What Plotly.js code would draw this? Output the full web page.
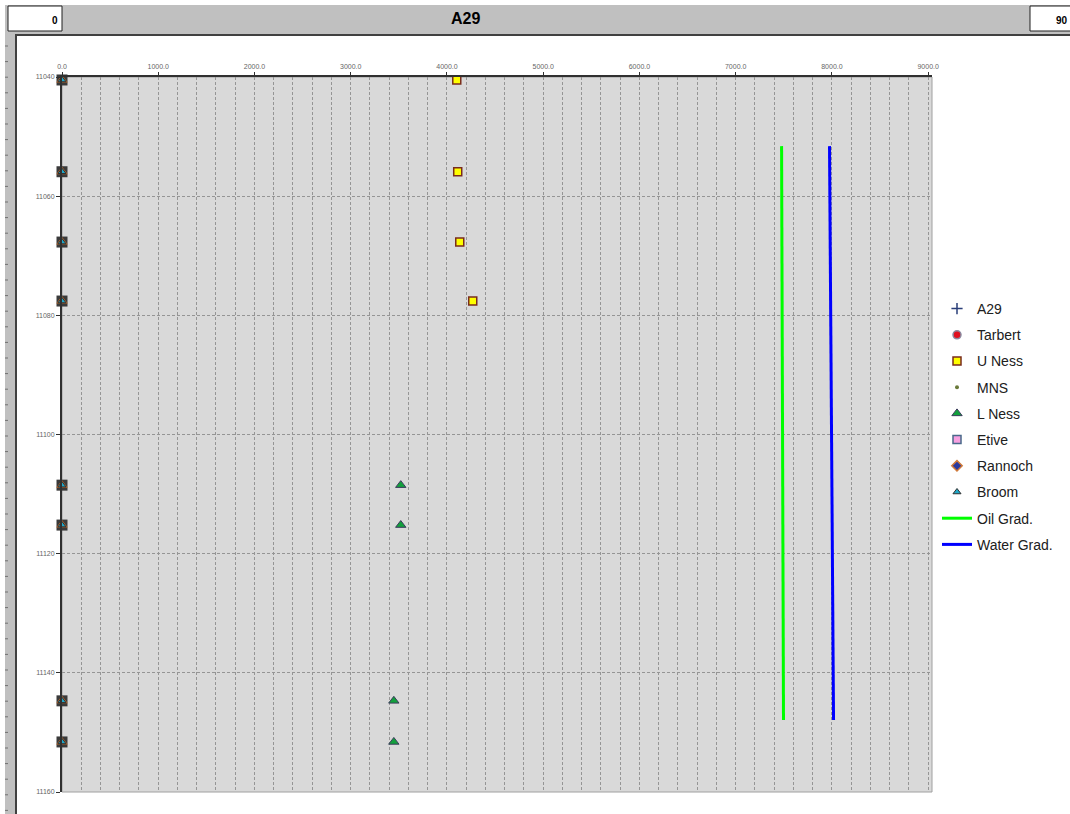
<!DOCTYPE html>
<html>
<head>
<meta charset="utf-8">
<script src="https://cdn.plot.ly/plotly-3.0.1.min.js"></script>
<style>
  html, body { margin: 0; padding: 0; background: #ffffff; }
  #chart { width: 1070px; height: 814px; }
</style>
</head>
<body>
<div id="chart"></div>
<script>
// ---------------- data ----------------
const wellName = "A29";
const headerLeftValue = "0";
const headerRightValue = "90";

const uNessDepth = [11040.5, 11055.9, 11067.7, 11077.6];
const uNessPressure = [4102, 4112, 4133, 4268];

const lNessDepth = [11108.5, 11115.2, 11144.7, 11151.6];
const lNessPressure = [3520, 3520, 3448, 3448];

const broomDepth = [11040.5, 11055.9, 11067.7, 11077.6, 11108.5, 11115.2, 11144.7, 11151.6];
const broomPressure = [0, 0, 0, 0, 0, 0, 0, 0];

const oilGradDepth = [11051.6, 11147.9];
const oilGradPressure = [7477, 7497];

const waterGradDepth = [11051.6, 11147.9];
const waterGradPressure = [7975, 8017];

const xTickValues = [0, 1000, 2000, 3000, 4000, 5000, 6000, 7000, 8000, 9000];
const yTickValues = [11040, 11060, 11080, 11100, 11120, 11140, 11160];

// ---------------- layout geometry ----------------
const W = 1070, H = 814;
const L = 62, R = 932, T = 77, B = 792;
const px = X => (X - L) / (R - L);
const py = Y => (B - Y) / (B - T);

const emptyX = [null], emptyY = [null];

const traces = [
  { name: "A29", x: emptyX, y: emptyY, mode: "markers", legendgroup: "g1",
    marker: { symbol: "cross-thin", size: 8, line: { color: "#2a3f7a", width: 1.5 }, color: "#2a3f7a" } },
  { name: "Tarbert", x: emptyX, y: emptyY, mode: "markers", legendgroup: "g2",
    marker: { symbol: "circle", size: 8, color: "#e01020", line: { color: "#8a8aa0", width: 1.5 } } },
  { name: "U Ness", x: uNessPressure, y: uNessDepth, mode: "markers", legendgroup: "g3", cliponaxis: false,
    marker: { symbol: "square", size: 8, color: "#ffff00", line: { color: "#7a2c1c", width: 1.5 } } },
  { name: "MNS", x: emptyX, y: emptyY, mode: "markers", legendgroup: "g4",
    marker: { symbol: "circle", size: 4, color: "#6a7a3a", line: { width: 0 } } },
  { name: "L Ness", x: lNessPressure, y: lNessDepth, mode: "markers", legendgroup: "g5", cliponaxis: false,
    marker: { symbol: "triangle-up", size: 9, color: "#12a03c", line: { color: "#3c3c5c", width: 1 } } },
  { name: "Etive", x: emptyX, y: emptyY, mode: "markers", legendgroup: "g6",
    marker: { symbol: "square", size: 8, color: "#f7a0e0", line: { color: "#4a6a8a", width: 1.5 } } },
  { name: "Rannoch", x: emptyX, y: emptyY, mode: "markers", legendgroup: "g7",
    marker: { symbol: "diamond", size: 8, color: "#2a3aa0", line: { color: "#d07a3a", width: 1.5 } } },
  { name: "Broom-bg", x: broomPressure, y: broomDepth, mode: "markers", showlegend: false, hoverinfo: "skip", cliponaxis: false,
    marker: { symbol: "square", size: 11, color: "#3a3a3a", line: { width: 0 } } },
  { name: "Broom-edge", x: broomPressure, y: broomDepth, mode: "markers", showlegend: false, hoverinfo: "skip", cliponaxis: false,
    marker: { symbol: "triangle-up", size: 10, color: "#c06a2a", line: { width: 0 } } },
  { name: "Broom", x: broomPressure, y: broomDepth, mode: "markers", legendgroup: "g8", cliponaxis: false,
    marker: { symbol: "triangle-up", size: 7, color: "#20a8c8", line: { color: "#303030", width: 1 } } },
  { name: "Oil Grad.", x: oilGradPressure, y: oilGradDepth, mode: "lines", legendgroup: "g9",
    line: { color: "#00ff00", width: 3 } },
  { name: "Water Grad.", x: waterGradPressure, y: waterGradDepth, mode: "lines", legendgroup: "g10",
    line: { color: "#0000ff", width: 3 } }
];

// ---------------- decorative frame ----------------
const shapes = [];
shapes.push({ type: "rect", xref: "paper", yref: "paper", x0: px(5), x1: px(1075), y0: py(34), y1: py(5),
  fillcolor: "#c0c0c0", line: { width: 0 }, layer: "below" });
shapes.push({ type: "rect", xref: "paper", yref: "paper", x0: px(5), x1: px(15), y0: py(820), y1: py(34),
  fillcolor: "#c0c0c0", line: { width: 0 }, layer: "below" });
shapes.push({ type: "line", xref: "paper", yref: "paper", x0: px(15), x1: px(1075), y0: py(35), y1: py(35),
  line: { color: "#404040", width: 2 } });
shapes.push({ type: "line", xref: "paper", yref: "paper", x0: px(16), x1: px(16), y0: py(35), y1: py(820),
  line: { color: "#404040", width: 2 } });
for (let yy = 46; yy < 814; yy += 15.6) {
  shapes.push({ type: "line", xref: "paper", yref: "paper", x0: px(5), x1: px(8), y0: py(yy), y1: py(yy),
    line: { color: "#707070", width: 1 } });
}
shapes.push({ type: "rect", xref: "paper", yref: "paper", x0: px(8), x1: px(62), y0: py(31), y1: py(6),
  fillcolor: "#ffffff", line: { color: "#202020", width: 1 } });
shapes.push({ type: "rect", xref: "paper", yref: "paper", x0: px(1030), x1: px(1085), y0: py(31), y1: py(6),
  fillcolor: "#ffffff", line: { color: "#202020", width: 1 } });
shapes.push({ type: "rect", xref: "paper", yref: "paper", x0: 0, x1: 1, y0: 0, y1: 1,
  line: { color: "#a0a0a0", width: 1 }, layer: "below" });

const annotations = [
  { xref: "paper", yref: "paper", x: px(465), y: py(19), text: "<b>" + wellName + "</b>", showarrow: false,
    font: { family: "Liberation Sans, Arial, sans-serif", size: 16, color: "#000" }, xanchor: "center", yanchor: "middle" },
  { xref: "paper", yref: "paper", x: px(60), y: py(20), text: "<b>" + headerLeftValue + "</b>", showarrow: false,
    font: { family: "Liberation Sans, Arial, sans-serif", size: 10, color: "#000" }, xanchor: "right", yanchor: "middle" },
  { xref: "paper", yref: "paper", x: px(1070), y: py(20), text: "<b>" + headerRightValue + "</b>", showarrow: false,
    font: { family: "Liberation Sans, Arial, sans-serif", size: 10, color: "#000" }, xanchor: "right", yanchor: "middle" }
];

const gridDash = "3px,2px";

const layout = {
  width: W, height: H,
  margin: { l: L, r: W - R, t: T, b: H - B, pad: 0, autoexpand: false },
  paper_bgcolor: "#ffffff",
  plot_bgcolor: "#d9d9d9",
  showlegend: true,
  legend: {
    x: px(937), y: py(293), xanchor: "left", yanchor: "top",
    font: { family: "Liberation Sans, Arial, sans-serif", size: 14, color: "#202020" },
    tracegroupgap: 5, bgcolor: "rgba(0,0,0,0)", borderwidth: 0
  },
  xaxis: {
    side: "top", range: [0, 9040], tickvals: xTickValues, tickformat: ".1f",
    showline: true, linecolor: "#303030", linewidth: 2,
    ticks: "outside", ticklen: 3, tickcolor: "#303030",
    tickfont: { family: "Liberation Sans, Arial, sans-serif", size: 7, color: "#666" },
    showgrid: true, gridcolor: "#959595", griddash: gridDash, gridwidth: 1,
    minor: { dtick: 200, showgrid: true, gridcolor: "#959595", griddash: gridDash, gridwidth: 1 },
    zeroline: false, fixedrange: true
  },
  yaxis: {
    range: [11160, 11040], tickvals: yTickValues, tickformat: "d",
    showline: true, linecolor: "#303030", linewidth: 2,
    ticks: "outside", ticklen: 4, tickcolor: "#303030",
    tickfont: { family: "Liberation Sans, Arial, sans-serif", size: 7, color: "#666" },
    showgrid: true, gridcolor: "#959595", griddash: gridDash, gridwidth: 1,
    zeroline: false, fixedrange: true
  },
  shapes: shapes,
  annotations: annotations
};

Plotly.newPlot("chart", traces, layout, { displayModeBar: false, staticPlot: true });
</script>
</body>
</html>
